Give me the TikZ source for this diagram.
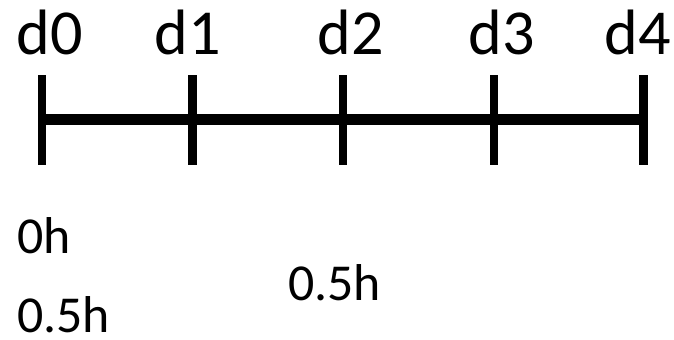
\documentclass[tikz,border=0pt]{standalone}
\usepackage{fontspec}
\setmainfont{Carlito}
\usepackage{tikz}
\usetikzlibrary{positioning, calc}
\tikzset{
  axis/.style={line width=6.8pt, color=black},
  tick/.style={line width=5.1pt, color=black},
  daylabel/.style={font=\fontsize{36.5}{40}\selectfont, anchor=base, inner sep=0pt},
  timelabel/.style={font=\fontsize{29.5}{34}\selectfont, anchor=base west, inner sep=0pt}
}

\begin{document}
\begin{tikzpicture}[x=0.02cm, y=-0.02cm]
  \useasboundingbox (0,0) rectangle (674,339);
  % ticks and day labels
  \foreach \i/\tx/\lx in {0/42/50, 1/192.5/188, 2/343/351, 3/494/502, 4/643.5/638} {
    \coordinate (top\i) at (\tx,75);
    \coordinate (bot\i) at (\tx,165);
    \coordinate (mid\i) at (\tx,119.5);
    \draw[tick] (top\i) -- (bot\i);
    \node[daylabel] (d\i) at (\lx,54) {d\i};
  }
  % timeline
  \draw[axis] (mid0) -- (mid4);
  % durations
  \node[timelabel] (t0) at (17,253) {0h};
  \node[timelabel] (t1) at (17,332) {0.5h};
  \node[timelabel] (t2) at (288,300) {0.5h};
\end{tikzpicture}
\end{document}
